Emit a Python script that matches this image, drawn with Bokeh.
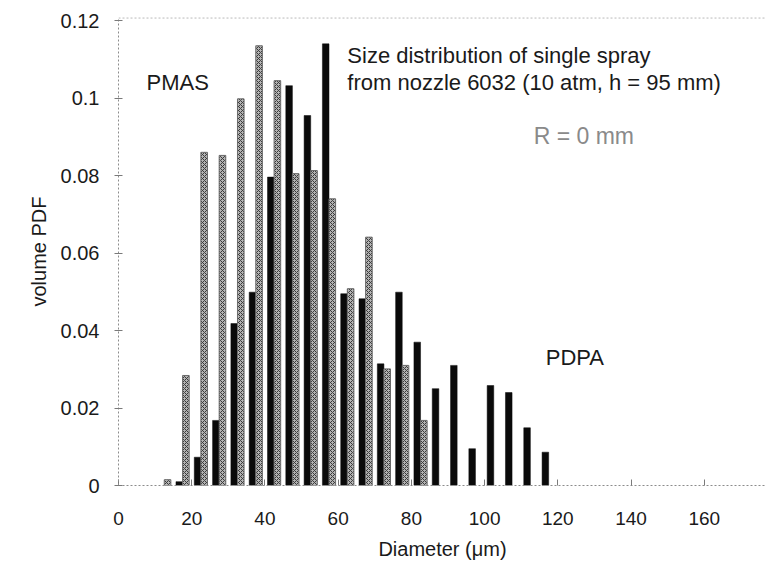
from bokeh.plotting import figure
from bokeh.models import FixedTicker, Span, Range1d, Label
from bokeh.embed import file_html
from bokeh.resources import INLINE

# ---- data ----
pdpa_bins = [17.5, 22.5, 27.5, 32.5, 37.5, 42.5, 47.5, 52.5, 57.5, 62.5, 67.5,
             72.5, 77.5, 82.5, 87.5, 92.5, 97.5, 102.5, 107.5, 112.5, 117.5]
pdpa_pdf = [0.001, 0.0073, 0.0168, 0.0418, 0.0499, 0.0796, 0.1032, 0.0955, 0.114,
            0.0495, 0.0482, 0.0314, 0.0499, 0.037, 0.025, 0.031, 0.0095, 0.0258,
            0.024, 0.0149, 0.0086]

pmas_bins = [12.5, 17.5, 22.5, 27.5, 32.5, 37.5, 42.5, 47.5, 52.5, 57.5, 62.5,
             67.5, 72.5, 77.5, 82.5]
pmas_pdf = [0.0015, 0.0284, 0.086, 0.0852, 0.0998, 0.1135, 0.1045, 0.0805, 0.0813,
            0.074, 0.0508, 0.0641, 0.0301, 0.031, 0.0168]

x_ticks = [0, 20, 40, 60, 80, 100, 120, 140, 160]
y_ticks = [0, 0.02, 0.04, 0.06, 0.08, 0.1, 0.12]
y_tick_labels = ["0", "0.02", "0.04", "0.06", "0.08", "0.1", "0.12"]

FONT = "Liberation Sans"
BAR_W = 1.8
OFFSET = 0.9

p = figure(width=766, height=566, output_backend="svg", toolbar_location=None,
           x_range=Range1d(0, 177.0), y_range=Range1d(0, 0.1208),
           min_border_left=118, min_border_top=17, min_border_bottom=81,
           min_border_right=0)

p.xgrid.visible = False
p.ygrid.visible = False
p.outline_line_color = None
p.background_fill_color = "white"
p.border_fill_color = "white"

# PDPA (black) bars
p.vbar(x=[b - OFFSET for b in pdpa_bins], top=pdpa_pdf, width=BAR_W,
       fill_color="#0a0a0a", line_color="#0a0a0a", line_width=0.5)
# PMAS (grey hatched) bars
p.vbar(x=[b + OFFSET for b in pmas_bins], top=pmas_pdf, width=BAR_W,
       fill_color="#b4b4b4", line_color="#6a6a6a", line_width=1,
       hatch_pattern="x", hatch_color="#3a3a3a", hatch_scale=4, hatch_weight=1)

# top frame line (dotted)
p.add_layout(Span(location=0.1207, dimension="width", line_color="#9a9a9a",
                  line_dash="2 2", line_width=1))

# axes
p.xaxis.ticker = FixedTicker(ticks=x_ticks)
p.yaxis.ticker = FixedTicker(ticks=y_ticks)
p.yaxis.major_label_overrides = {t: l for t, l in zip(y_ticks, y_tick_labels)}
for ax in (p.xaxis, p.yaxis):
    ax.axis_line_color = "#8c8c8c"
    ax.axis_line_dash = "2 2"
    ax.major_tick_line_color = "#7a7a7a"
    ax.minor_tick_line_color = None
    ax.major_label_text_font = FONT
    ax.major_label_text_color = "#1a1a1a"
    ax.axis_label_text_font = FONT
    ax.axis_label_text_font_size = "20px"
    ax.axis_label_text_font_style = "normal"
    ax.axis_label_text_color = "#1a1a1a"

p.xaxis.major_label_text_font_size = "19px"
p.yaxis.major_label_text_font_size = "20px"

p.xaxis.major_tick_in = 6
p.xaxis.major_tick_out = 0
p.xaxis.major_label_standoff = 26
p.xaxis.axis_label = "Diameter (\u03bcm)"
p.xaxis.axis_label_standoff = 10

p.yaxis.major_tick_in = 4
p.yaxis.major_tick_out = 4
p.yaxis.major_label_standoff = 15
p.yaxis.axis_label = "volume PDF"
p.yaxis.axis_label_standoff = 8

# annotations
def lab(x, y, t, size="22px", color="#1a1a1a"):
    p.add_layout(Label(x=x, y=y, text=t, text_font=FONT, text_font_size=size,
                       text_color=color, text_baseline="middle", text_align="left"))

lab(7.65, 0.1040, "PMAS")
lab(62.5, 0.1110, "Size distribution of single spray")
lab(62.5, 0.1040, "from nozzle 6032 (10 atm, h = 95 mm)")
lab(113.4, 0.0903, "R = 0 mm", size="23px", color="#8a8a8a")
lab(116.7, 0.0330, "PDPA")

open("out.html", "w").write(file_html(p, INLINE))
